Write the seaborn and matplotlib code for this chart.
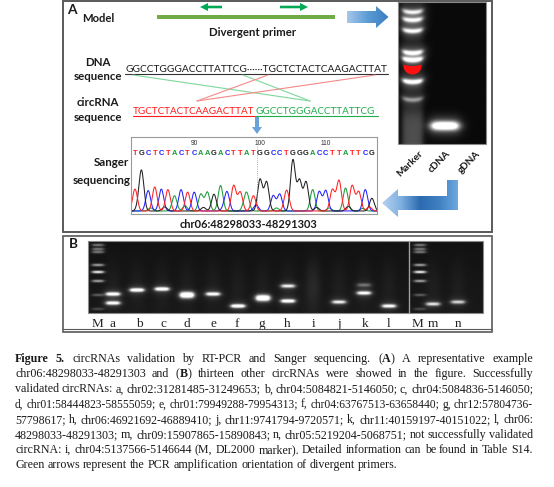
import numpy as np
import pandas as pd
import matplotlib
matplotlib.use("Agg")
import matplotlib.pyplot as plt
import seaborn as sns
from matplotlib.patches import Rectangle, Polygon, FancyArrow
from matplotlib.colors import LinearSegmentedColormap

W, H = 554, 487

# ---------------- data ----------------
dna_left = "GGCCTGGGACCTTATTCG"
dna_dots = "······"
dna_right = "TGCTCTACTCAAGACTTAT"
circ_red = "TGCTCTACTCAAGACTTAT"
circ_green = "GGCCTGGGACCTTATTCG"

# Sanger trace: one called base per peak, peak heights relative to tallest
sanger_bases = list(circ_red + circ_green)
sanger_heights = [0.43, 0.75, 0.40, 0.47, 0.43, 0.42, 0.30, 0.42, 0.37, 0.37,
                  0.33, 0.37, 0.33, 0.50, 0.36, 0.50, 0.37, 0.32, 0.30, 0.62,
                  0.57, 0.30, 0.33, 0.35, 1.00, 0.60, 0.57, 0.42, 0.38, 0.40,
                  0.42, 0.60, 0.45, 0.50, 0.38, 0.42, 0.25]
sanger_start = 81
sanger_ticks = [90, 100, 110]
# small background peaks near the baseline
minor_pos = [1.6, 3.4, 5.5, 8.6, 11.4, 14.5, 17.6, 19.4, 22.5, 24.3, 28.6, 30.5, 33.4, 35.6, 36.6]
minor_base = ["G", "A", "G", "A", "G", "C", "A", "C", "A", "T", "G", "A", "G", "A", "T"]
minor_h = [0.10, 0.06, 0.08, 0.10, 0.07, 0.06, 0.09, 0.12, 0.06, 0.08, 0.07, 0.06, 0.09, 0.05, 0.08]

# gel in panel A (rows = px below the gel top)
gelA_lanes = ["Marker", "cDNA", "gDNA"]
ladderA_rows = [10, 18, 29, 51, 58, 80, 98]
ladderA_level = [0.70, 0.78, 0.80, 0.85, 1.00, 0.95, 0.40]
ladderA_red_row = 64
cdna_row = 124

# gel in panel B
laneB = ["M", "a", "b", "c", "d", "e", "f", "g", "h", "i", "j", "k", "l", "M", "m", "n"]
ladderB_rows = [4, 8, 11, 24, 31, 40, 54, 68]
ladderB_level = [0.45, 0.45, 0.45, 0.60, 0.95, 0.60, 0.30, 0.22]
bandsB_rows = [None, [53, 62], [49], [48], [54], [53], [65], [57], [45, 60], [],
               [61], [44, 52], [65], None, [63], [61]]
bandsB_level = [None, [0.85, 0.80], [0.90], [0.90], [1.0], [0.80], [0.90], [1.0],
                [0.65, 0.85], [], [0.65], [0.25, 0.75], [0.75], None, [0.60], [0.55]]

caption_lines = [
    "*Figure 5.*  circRNAs validation by RT-PCR and Sanger sequencing.  (*A*) A representative example",
    "chr06:48298033-48291303 and (*B*) thirteen other circRNAs were showed in the figure. Successfully",
    "validated circRNAs: a, chr02:31281485-31249653; b, chr04:5084821-5146050; c, chr04:5084836-5146050;",
    "d, chr01:58444823-58555059; e, chr01:79949288-79954313; f, chr04:63767513-63658440; g, chr12:57804736-",
    "57798617; h, chr06:46921692-46889410; j, chr11:9741794-9720571; k, chr11:40159197-40151022; l, chr06:",
    "48298033-48291303; m, chr09:15907865-15890843; n, chr05:5219204-5068751; not successfully validated",
    "circRNA: i, chr04:5137566-5146644 (M, DL2000 marker). Detailed information can be found in Table S14.",
    "Green arrows represent the PCR amplification orientation of divergent primers.",
]

base_colors = {"A": "#1a9c3a", "C": "#2222ff", "G": "#222222", "T": "#ff2222"}

# ---------------- figure setup ----------------
sns.set_theme(style="white")
plt.rcParams["font.family"] = ["Lato", "DejaVu Sans"]

fig = plt.figure(figsize=(W / 100, H / 100), dpi=100)
ax = fig.add_axes([0, 0, 1, 1])
ax.set_axis_off()
ax.set_xlim(0, W)
ax.set_ylim(H, 0)
renderer = fig.canvas.get_renderer()


def text_width(s, fs, **kw):
    t = ax.text(0, 0, s, fontsize=fs, **kw)
    w = t.get_window_extent(renderer).width
    t.remove()
    return w


def fit_size(s, width, **kw):
    return 10 * width / text_width(s, 10, **kw)


def gradient_poly(pts, colors, direction="x"):
    poly = Polygon(pts, closed=True, facecolor="none", edgecolor="none")
    ax.add_patch(poly)
    xs = [p[0] for p in pts]
    ys = [p[1] for p in pts]
    cmap = LinearSegmentedColormap.from_list("grad", colors)
    g = np.linspace(0, 1, 256)
    arr = g[None, :] if direction == "x" else g[:, None]
    im = ax.imshow(arr, cmap=cmap, extent=(min(xs), max(xs), max(ys), min(ys)),
                   aspect="auto", origin="upper", interpolation="bilinear", zorder=1)
    im.set_clip_path(poly)


def band(X, Y, xc, yc, half, sig, level, edge=1.2):
    xp = 1 / (1 + np.exp((np.abs(X - xc) - half) / edge))
    return level * xp * np.exp(-0.5 * ((Y - yc) / sig) ** 2)


def lane(X, xc, half, edge=1.5):
    return 1 / (1 + np.exp((np.abs(X - xc) - half) / edge))


# ---------------- panel frames ----------------
ax.add_patch(Rectangle((63, 0.8), 429, 231.5, fill=False, ec="#5a5a5a", lw=1.4, zorder=5))
ax.add_patch(Rectangle((63, 235.5), 429, 96.5, fill=False, ec="#5a5a5a", lw=1.2, zorder=5))
ax.plot([63, 492], [329.3, 329.3], color="#5a5a5a", lw=0.8, zorder=5)

bold = dict(fontweight="bold", color="#1a1a1a")

# ---------------- panel A: model ----------------
ax.text(67, 10.5, "A", fontsize=fit_size("A", 9.5, **bold), va="center", ha="left", **bold)
ax.text(82, 18, "Model", fontsize=fit_size("Model", 32.5, **bold), va="center", ha="left", **bold)
ax.add_patch(Rectangle((157, 15.3), 178, 3.6, fc="#6fac46", ec="none"))
ax.add_patch(FancyArrow(222, 7, -22, 0, width=2.6, head_width=8, head_length=8,
                        length_includes_head=True, fc="#00a956", ec="none"))
ax.add_patch(FancyArrow(280, 7, 28, 0, width=2.6, head_width=8, head_length=8,
                        length_includes_head=True, fc="#00a956", ec="none"))
ax.text(253, 32.5, "Divergent primer", fontsize=fit_size("Divergent primer", 87, **bold),
        ha="center", va="center", **bold)
gradient_poly([(347, 11), (376, 11), (376, 6), (388.5, 17), (376, 28), (376, 23), (347, 23)],
              ["#a6c7ea", "#5b9bd5", "#3a7cc0"], direction="x")

lab_fs = fit_size("sequence", 49, **bold)
ax.text(98, 62, "DNA", fontsize=lab_fs, ha="center", va="center", **bold)
ax.text(98, 76, "sequence", fontsize=lab_fs, ha="center", va="center", **bold)
ax.text(98, 103, "circRNA", fontsize=lab_fs, ha="center", va="center", **bold)
ax.text(98, 117.5, "sequence", fontsize=lab_fs, ha="center", va="center", **bold)
ax.text(111, 163, "Sanger", fontsize=lab_fs, ha="center", va="center", **bold)
ax.text(102, 180, "sequencing", fontsize=lab_fs, ha="center", va="center", **bold)

# sequences
seq_kw = dict(color="#1a1a1a")
dna_full = dna_left + dna_dots + dna_right
seq_fs = fit_size(dna_full, 263, **seq_kw)
ax.text(125, 72, dna_full, fontsize=seq_fs, ha="left", va="baseline", **seq_kw)
ax.plot([125, 388], [74, 74], color="#333333", lw=0.8)

red_fs = fit_size(circ_red, 122)
ax.text(133, 114, circ_red, fontsize=red_fs, ha="left", va="baseline", color="#ff1c1c")
ax.text(255, 114, circ_green, fontsize=red_fs, ha="left", va="baseline", color="#1fae4b")
ax.plot([133, 255], [116, 116], color="#ff1c1c", lw=0.8)
ax.plot([255, 378], [116, 116], color="#1fae4b", lw=0.8)

# crossing lines between the two sequences
for x0 in (133, 243):
    ax.plot([x0, 310], [75, 101], color="#7fd79b", lw=0.8)
for x0 in (268, 375):
    ax.plot([x0, 197], [75, 101], color="#f58a8a", lw=0.8)

ax.add_patch(FancyArrow(257, 117, 0, 17, width=4, head_width=10, head_length=7,
                        length_includes_head=True, fc="#6aa3da", ec="none"))

# ---------------- panel A: Sanger chromatogram ----------------
cx0, cy0, cx1, cy1 = 131, 137, 377, 214
axc = fig.add_axes([cx0 / W, 1 - cy1 / H, (cx1 - cx0) / W, (cy1 - cy0) / H])
step = 6.58
axc.set_xlim(1 - 4 / step, 1 + (cx1 - 135) / step)
axc.set_ylim(-3 / 51, (211 - cy0) / 51)

pos = np.linspace(0.3, 38.0, 1500)
sig = 0.36
rows = []
for b in ["A", "C", "G", "T"]:
    s = np.zeros_like(pos)
    for i, (bb, h) in enumerate(zip(sanger_bases, sanger_heights), start=1):
        if bb == b:
            s += h * np.exp(-0.5 * ((pos - i) / sig) ** 2)
    for p, bb, h in zip(minor_pos, minor_base, minor_h):
        if bb == b:
            s += h * np.exp(-0.5 * ((pos - p) / sig) ** 2)
    rows.append(pd.DataFrame({"pos": pos, "signal": s, "base": b}))
trace = pd.concat(rows, ignore_index=True)
sns.lineplot(data=trace, x="pos", y="signal", hue="base", palette=base_colors,
             hue_order=["A", "C", "G", "T"], estimator=None, sort=False,
             legend=False, lw=0.75, ax=axc)

for i, b in enumerate(sanger_bases, start=1):
    axc.text(i, 1.137, b, fontsize=5.4, ha="center", va="center", color=base_colors[b],
             fontweight="bold", family="Liberation Sans")
for t in sanger_ticks:
    axc.text(t - sanger_start + 1, 1.333, str(t), fontsize=4.8, ha="center", va="center",
             color="#333333", family="Liberation Sans")
axc.plot([19.6, 19.6], [0, 1.27], color="#7b7bff", lw=0.6, ls=":")
axc.set_xlabel("")
axc.set_ylabel("")
axc.set_xticks([])
axc.set_yticks([])
for sp in axc.spines.values():
    sp.set_color("#9a9a9a")
    sp.set_linewidth(0.8)
axc.set_facecolor("white")

ax.text(248, 225, "chr06:48298033-48291303",
        fontsize=fit_size("chr06:48298033-48291303", 137, **bold), ha="center", va="center", **bold)

# ---------------- panel A: gel ----------------
gx0, gy0, gx1, gy1 = 398, 2, 486, 144
xs = np.linspace(gx0, gx1, 177)
ys = np.linspace(gy0, gy1, 285)
X, Y = np.meshgrid(xs, ys)
gelA = np.full(X.shape, 0.02)
mx, cx = 412.5, 445
smile = 1.5 * ((X - mx) / 9.5) ** 2
for r, lv in zip(ladderA_rows, ladderA_level):
    yc = gy0 + r - smile
    gelA += band(X, Y, mx, yc, 9.5, 1.6, lv)
    gelA += band(X, Y, mx, yc, 11, 5.0, 0.25 * lv, edge=2.5)
gelA += 0.06 * lane(X, mx, 10)
gelA += 0.17 * lane(X, mx, 10) / (1 + np.exp(-(Y - (gy0 + 110)) / 4))
gelA += band(X, Y, cx, gy0 + cdna_row, 12.5, 2.8, 1.3, edge=2.2)
gelA += band(X, Y, cx, gy0 + cdna_row, 15, 6.5, 0.3, edge=3)
ax.imshow(np.clip(gelA, 0, 1) ** 0.85, cmap="gray", vmin=0, vmax=1,
          extent=(gx0, gx1, gy1, gy0), aspect="auto", interpolation="bilinear", zorder=1)
tt = np.linspace(-1, 1, 40)
red_top = gy0 + ladderA_red_row
red_pts = [(mx + 9 * t, red_top - 1.5 * t ** 2) for t in tt] + \
          [(mx + 9 * t, red_top + 8.5 * np.sqrt(1 - t ** 2)) for t in tt[::-1]]
ax.add_patch(Polygon(red_pts, closed=True, fc="#ff1010", ec="none", zorder=2))
ax.add_patch(Rectangle((gx0, gy0), gx1 - gx0, gy1 - gy0, fill=False, ec="#8a8a8a", lw=0.8, zorder=3))

gl_fs = fit_size("Marker", 33, **bold)
for name, x in zip(gelA_lanes, [418, 446, 476]):
    ax.text(x, 149, name, fontsize=gl_fs, rotation=45, rotation_mode="anchor",
            ha="right", va="top", **bold)

gradient_poly([(447, 180), (458, 180), (458, 210), (398, 210), (398, 217), (382, 203),
               (398, 189), (398, 196), (447, 196)],
              ["#b7d2ef", "#7fb0e0", "#2d6bb0", "#3f7fc2", "#6ea8de"], direction="x")

# ---------------- panel B: gel ----------------
ax.text(69, 244.5, "B", fontsize=fit_size("B", 9, **bold), ha="left", va="center", **bold)
bx0, by0, bx1, by1 = 88, 241, 483, 313
laneB_x = [98, 113, 137, 162, 187, 213, 238, 263, 288, 313, 339, 364, 389, 420, 433, 458]
label_x = [97, 112, 139, 163, 187, 213, 237, 262, 287, 314, 339, 365, 389, 417, 433, 458]
xs = np.arange(bx0, bx1, 0.5) + 0.25
ys = np.arange(by0, by1, 0.5) + 0.25
X, Y = np.meshgrid(xs, ys)
gelB = np.full(X.shape, 0.07) + 0.03 * (Y - by0) / (by1 - by0)
for k, (name, x) in enumerate(zip(laneB, laneB_x)):
    if bandsB_rows[k] is None:
        for r, lv in zip(ladderB_rows, ladderB_level):
            gelB += band(X, Y, x, by0 + r, 5.5, 0.9, lv)
        continue
    smear = 0.08 if name == "i" else 0.035
    gelB += smear * lane(X, x, 6, 2.0) * np.exp(-0.5 * ((Y - (by0 + 45)) / 18) ** 2)
    for r, lv in zip(bandsB_rows[k], bandsB_level[k]):
        thick = 2.0 if name in ("d", "g") else 1.2
        gelB += band(X, Y, x, by0 + r, 6.5, thick, 1.25 * lv)
        gelB += band(X, Y, x, by0 + r, 8, 3.5, 0.18 * lv, edge=2)
ax.imshow(np.clip(gelB, 0, 1), cmap="gray", vmin=0, vmax=1,
          extent=(bx0, bx1, by1, by0), aspect="auto", interpolation="bilinear", zorder=1)
ax.add_patch(Rectangle((bx0, by0), bx1 - bx0, by1 - by0, fill=False, ec="#8a8a8a", lw=0.8, zorder=3))
ax.plot([409, 409], [by0, by1], color="#a0a0a0", lw=1.0, zorder=3)
for name, x in zip(laneB, label_x):
    ax.text(x, 324, name, fontsize=9.5, ha="center", va="center", color="#222222",
            family="Liberation Serif")

# ---------------- caption, justified ----------------
def parse_words(line):
    words, is_bold = [], False
    for raw in line.split():
        segs, buf = [], ""
        for ch in raw:
            if ch == "*":
                if buf:
                    segs.append((buf, is_bold))
                    buf = ""
                is_bold = not is_bold
            else:
                buf += ch
        if buf:
            segs.append((buf, is_bold))
        words.append(segs)
    return words


cap_family = "Liberation Serif"
cap_left, cap_right = 15, 533
parsed = [parse_words(l) for l in caption_lines]


def seg_width(s, b, fs):
    return text_width(s, fs, family=cap_family, fontweight="bold" if b else "normal")


def word_width(segs, fs):
    return sum(seg_width(s, b, fs) for s, b in segs)


space10 = text_width("a a", 10, family=cap_family) - text_width("aa", 10, family=cap_family)
nat = [sum(word_width(w, 10) for w in ws) + space10 * (len(ws) - 1) for ws in parsed]
fit_fs = [10 * (cap_right - cap_left) / n for n in nat]
base_fs = float(np.median(fit_fs[:-1]))

for li, ws in enumerate(parsed):
    last = li == len(parsed) - 1
    fs = base_fs if last else min(base_fs, fit_fs[li])
    widths = [word_width(w, fs) for w in ws]
    if last:
        gap = space10 * fs / 10
    else:
        gap = (cap_right - cap_left - sum(widths)) / (len(ws) - 1)
    y = 362 + li * 15.2
    x = cap_left
    for w, wd in zip(ws, widths):
        xx = x
        for s, b in w:
            ax.text(xx, y, s, fontsize=fs, family=cap_family, ha="left", va="baseline",
                    fontweight="bold" if b else "normal", color="#1a1a1a")
            xx += seg_width(s, b, fs)
        x += wd + gap

ax.set_xlim(0, W)
ax.set_ylim(H, 0)
fig.savefig("out.png", dpi=100, facecolor="white")
